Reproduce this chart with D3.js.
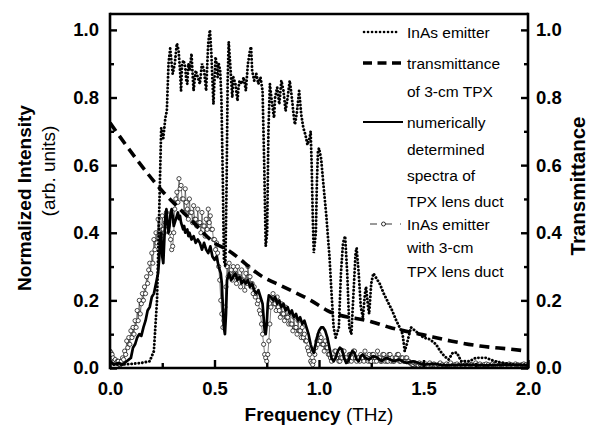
<!DOCTYPE html>
<html>
<head>
<meta charset="utf-8">
<script src="https://cdn.jsdelivr.net/npm/d3@7"></script>
<style>
  body { margin: 0; background: #fff; }
  svg { font-family: "Liberation Sans", Arial, sans-serif; }
  .tick-label { font-size: 18.5px; font-weight: bold; fill: #000; }
  .legend-text { font-size: 15.5px; fill: #000; }
</style>
</head>
<body>
<svg id="chart" width="595" height="428"></svg>
<script>
// InAs emitter (dotted) — [frequency THz, intensity]
const inasEmitter = [
  [0.00,0.01],[0.05,0.01],[0.10,0.012],[0.15,0.015],[0.19,0.02],[0.21,0.05],[0.225,0.2],[0.235,0.45],
  [0.245,0.71],[0.255,0.68],[0.265,0.74],[0.272,0.76],[0.28,0.90],[0.288,0.945],[0.295,0.90],[0.30,0.87],
  [0.31,0.90],[0.32,0.96],[0.328,0.94],[0.335,0.88],[0.34,0.82],[0.345,0.90],[0.352,0.91],[0.36,0.89],
  [0.365,0.85],[0.37,0.84],[0.375,0.90],[0.382,0.88],[0.39,0.93],[0.395,0.87],[0.40,0.82],[0.41,0.88],
  [0.42,0.86],[0.43,0.84],[0.44,0.90],[0.45,0.88],[0.46,0.82],[0.47,0.96],[0.478,1.00],[0.485,0.93],
  [0.49,0.85],[0.495,0.78],[0.50,0.85],[0.505,0.92],[0.51,0.90],[0.515,0.86],[0.52,0.90],[0.527,0.88],
  [0.533,0.80],[0.54,0.55],[0.545,0.32],[0.552,0.30],[0.558,0.55],[0.563,0.85],[0.568,0.965],[0.575,0.90],
  [0.58,0.85],[0.585,0.80],[0.59,0.86],[0.60,0.84],[0.61,0.79],[0.615,0.83],[0.62,0.85],[0.63,0.84],
  [0.64,0.86],[0.65,0.82],[0.66,0.90],[0.67,0.94],[0.675,0.95],[0.68,0.88],[0.69,0.85],[0.70,0.87],
  [0.71,0.84],[0.72,0.86],[0.73,0.82],[0.738,0.60],[0.745,0.36],[0.752,0.40],[0.758,0.70],[0.765,0.84],
  [0.772,0.80],[0.78,0.76],[0.785,0.74],[0.79,0.80],[0.80,0.83],[0.81,0.78],[0.82,0.85],[0.83,0.82],
  [0.84,0.76],[0.85,0.80],[0.86,0.85],[0.87,0.80],[0.88,0.74],[0.885,0.72],[0.895,0.76],[0.905,0.82],
  [0.915,0.75],[0.925,0.71],[0.935,0.69],[0.945,0.66],[0.955,0.68],[0.96,0.70],[0.965,0.60],[0.97,0.45],
  [0.975,0.34],[0.985,0.40],[0.99,0.55],[0.995,0.64],[1.00,0.65],[1.01,0.62],[1.02,0.55],[1.035,0.45],
  [1.05,0.33],[1.06,0.22],[1.07,0.12],[1.08,0.09],[1.095,0.12],[1.105,0.28],[1.115,0.37],[1.125,0.39],
  [1.135,0.28],[1.145,0.12],[1.155,0.10],[1.165,0.22],[1.175,0.34],[1.18,0.355],[1.19,0.28],[1.20,0.18],
  [1.21,0.15],[1.22,0.22],[1.225,0.24],[1.235,0.18],[1.24,0.16],[1.25,0.25],[1.26,0.28],[1.27,0.27],
  [1.29,0.25],[1.31,0.22],[1.33,0.195],[1.35,0.17],[1.37,0.14],[1.39,0.115],[1.40,0.10],[1.41,0.05],
  [1.42,0.07],[1.44,0.12],[1.46,0.11],[1.50,0.09],[1.53,0.085],[1.56,0.07],[1.58,0.05],[1.60,0.035],
  [1.62,0.025],[1.64,0.045],[1.66,0.045],[1.68,0.02],[1.72,0.02],[1.75,0.03],[1.80,0.03],[1.84,0.02],
  [1.88,0.015],[1.94,0.01],[2.00,0.01]
];

// transmittance of 3-cm TPX (dashed, right axis)
const transmittance = [
  [0.00,0.725],[0.13,0.615],[0.255,0.52],[0.325,0.476],[0.40,0.43],[0.50,0.37],[0.56,0.35],
  [0.73,0.27],[0.83,0.24],[0.96,0.20],[1.04,0.17],[1.25,0.137],[1.34,0.12],[1.50,0.098],
  [1.63,0.08],[1.77,0.065],[1.91,0.056],[2.00,0.05]
];

// numerically determined spectra of TPX lens duct (solid)
const simulated = [
  [0.00,0.02],[0.02,0.01],[0.04,0.015],[0.06,0.01],[0.08,0.02],[0.10,0.03],[0.11,0.06],[0.12,0.07],
  [0.13,0.09],[0.14,0.10],[0.15,0.095],[0.16,0.12],[0.17,0.14],[0.18,0.17],[0.19,0.18],[0.20,0.21],
  [0.21,0.22],[0.22,0.25],[0.23,0.28],[0.235,0.32],[0.24,0.38],[0.245,0.40],[0.25,0.33],[0.255,0.31],
  [0.26,0.38],[0.265,0.45],[0.27,0.47],[0.275,0.43],[0.28,0.40],[0.285,0.42],[0.29,0.46],[0.295,0.47],
  [0.30,0.45],[0.305,0.42],[0.31,0.43],[0.32,0.45],[0.325,0.46],[0.33,0.44],[0.335,0.45],[0.34,0.43],
  [0.35,0.41],[0.355,0.42],[0.36,0.40],[0.37,0.41],[0.375,0.39],[0.38,0.40],[0.39,0.38],[0.40,0.39],
  [0.41,0.37],[0.42,0.38],[0.43,0.37],[0.44,0.35],[0.45,0.37],[0.46,0.35],[0.47,0.34],[0.48,0.36],
  [0.49,0.33],[0.50,0.32],[0.51,0.33],[0.52,0.30],[0.53,0.28],[0.535,0.25],[0.54,0.18],[0.545,0.12],
  [0.55,0.10],[0.555,0.16],[0.56,0.26],[0.565,0.27],[0.57,0.28],[0.58,0.26],[0.59,0.27],[0.60,0.28],
  [0.61,0.26],[0.62,0.27],[0.63,0.25],[0.64,0.26],[0.65,0.25],[0.66,0.26],[0.67,0.24],[0.68,0.25],
  [0.69,0.23],[0.70,0.22],[0.71,0.23],[0.72,0.21],[0.73,0.19],[0.735,0.15],[0.74,0.11],[0.745,0.10],
  [0.75,0.13],[0.755,0.19],[0.76,0.215],[0.77,0.21],[0.78,0.20],[0.79,0.21],[0.80,0.19],[0.81,0.20],
  [0.82,0.18],[0.83,0.19],[0.84,0.17],[0.85,0.18],[0.86,0.16],[0.87,0.17],[0.88,0.15],[0.89,0.16],
  [0.90,0.14],[0.91,0.15],[0.92,0.13],[0.93,0.14],[0.94,0.12],[0.95,0.10],[0.96,0.07],[0.97,0.05],
  [0.975,0.045],[0.98,0.06],[0.99,0.09],[1.00,0.11],[1.01,0.12],[1.02,0.12],[1.03,0.11],[1.04,0.09],
  [1.05,0.06],[1.06,0.03],[1.07,0.02],[1.08,0.03],[1.09,0.05],[1.10,0.06],[1.11,0.055],[1.12,0.03],
  [1.13,0.015],[1.14,0.02],[1.15,0.04],[1.16,0.05],[1.17,0.045],[1.18,0.025],[1.19,0.02],[1.20,0.035],
  [1.21,0.04],[1.22,0.03],[1.24,0.025],[1.26,0.035],[1.28,0.03],[1.30,0.02],[1.32,0.03],[1.34,0.025],
  [1.36,0.02],[1.38,0.025],[1.40,0.02],[1.42,0.015],[1.45,0.02],[1.50,0.01],[1.55,0.012],[1.60,0.008],
  [1.70,0.01],[1.80,0.008],[1.90,0.01],[2.00,0.008]
];

// InAs emitter with 3-cm TPX lens duct (open circles)
// one value every 0.005 THz from 0 to 1.5 THz
const ductStep = 0.005;
const ductValues = [
  0.05,0.045,0.04,0.03,0.02,0.025,0.015,0.02,0.02,0.01,
  0.01,0.02,0.03,0.025,0.05,0.04,0.08,0.06,0.09,0.07,
  0.11,0.09,0.12,0.10,0.14,0.12,0.17,0.14,0.20,0.16,
  0.19,0.22,0.20,0.24,0.22,0.27,0.25,0.29,0.31,0.28,
  0.34,0.31,0.38,0.35,0.40,0.37,0.44,0.40,0.42,0.39,
  0.45,0.41,0.40,0.43,0.46,0.42,0.43,0.40,0.38,0.35,
  0.36,0.40,0.47,0.50,0.52,0.49,0.56,0.53,0.54,0.50,
  0.50,0.46,0.53,0.49,0.47,0.44,0.50,0.46,0.46,0.43,
  0.48,0.44,0.44,0.42,0.47,0.43,0.43,0.40,0.46,0.42,
  0.42,0.39,0.44,0.41,0.47,0.43,0.45,0.41,0.41,0.38,
  0.38,0.35,0.37,0.34,0.30,0.26,0.20,0.16,0.12,0.14,
  0.18,0.24,0.30,0.27,0.31,0.28,0.29,0.26,0.30,0.27,
  0.28,0.25,0.30,0.27,0.27,0.24,0.29,0.26,0.26,0.23,
  0.28,0.25,0.30,0.27,0.27,0.24,0.25,0.22,0.24,0.21,
  0.22,0.19,0.20,0.17,0.16,0.13,0.10,0.07,0.04,0.03,
  0.02,0.04,0.08,0.13,0.18,0.20,0.22,0.19,0.19,0.17,
  0.21,0.18,0.17,0.15,0.19,0.16,0.16,0.14,0.18,0.15,
  0.15,0.13,0.16,0.13,0.13,0.11,0.15,0.12,0.12,0.10,
  0.14,0.11,0.11,0.09,0.12,0.09,0.10,0.08,0.08,0.06,
  0.05,0.04,0.02,0.015,0.01,0.02,0.04,0.06,0.08,0.07,
  0.10,0.08,0.09,0.07,0.07,0.05,0.08,0.06,0.06,0.04,
  0.04,0.03,0.02,0.03,0.03,0.05,0.05,0.03,0.04,0.02,
  0.02,0.03,0.03,0.05,0.05,0.03,0.03,0.02,0.02,0.04,
  0.04,0.02,0.03,0.05,0.05,0.03,0.02,0.03,0.03,0.02,
  0.04,0.03,0.03,0.02,0.05,0.03,0.03,0.02,0.04,0.02,
  0.02,0.04,0.04,0.02,0.03,0.02,0.05,0.03,0.03,0.02,
  0.02,0.04,0.04,0.02,0.03,0.02,0.02,0.04,0.04,0.02,
  0.03,0.02,0.02,0.03,0.03,0.04,0.04,0.02,0.02,0.03,
  0.03,0.02,0.02,0.03,0.03,0.02,0.02,0.015,0.015,0.01,
  0.01,0.015,0.015,0.01,0.012,0.008,0.015,0.01,0.012,0.008,
  0.01
];
// one value every 0.01 THz from 1.51 to 2.0 THz
const ductTailStep = 0.01;
const ductTail = [
  0.012,0.008,0.015,0.01,0.012,0.008,0.01,0.015,0.01,0.008,
  0.012,0.01,0.015,0.008,0.01,0.012,0.008,0.01,0.015,0.01,
  0.008,0.012,0.01,0.008,0.015,0.01,0.012,0.008,0.01,0.012,
  0.01,0.008,0.012,0.01,0.015,0.008,0.01,0.012,0.008,0.01,
  0.012,0.01,0.008,0.012,0.01,0.008,0.01,0.012,0.01,0.008
];

const xTicks = [0, 0.5, 1.0, 1.5, 2.0];
const yTicks = [0, 0.2, 0.4, 0.6, 0.8, 1.0];

const legendItems = [
  { kind: 'dotted', lines: ['InAs emitter'] },
  { kind: 'dashed', lines: ['transmittance', 'of 3-cm TPX'] },
  { kind: 'solid',  lines: ['numerically', 'determined', 'spectra of', 'TPX lens duct'] },
  { kind: 'circle', lines: ['InAs emitter', 'with 3-cm', 'TPX lens duct'] }
];

const svg = d3.select('#chart');
const L = 110, R = 528, T = 14, B = 368;

const x = d3.scaleLinear().domain([0, 2]).range([L, R]);
const y = d3.scaleLinear().domain([0, 1.047]).range([B, T]);
const yR = y.copy();

const duct = ductValues.map((v, i) => [i * ductStep, v])
  .concat(ductTail.map((v, i) => [1.51 + i * ductTailStep, v]));

const plot = svg.append('g');
plot.append('clipPath').attr('id', 'clip')
  .append('rect').attr('x', L).attr('y', T).attr('width', R - L).attr('height', B - T + 2);
const g = plot.append('g').attr('clip-path', 'url(#clip)');

const line = d3.line().x(d => x(d[0])).y(d => y(d[1]));

// open circles with a thin line
g.append('path').datum(duct)
  .attr('d', line).attr('fill', 'none').attr('stroke', '#000').attr('stroke-width', 0.5);
g.append('g').selectAll('circle').data(duct).join('circle')
  .attr('cx', d => x(d[0])).attr('cy', d => y(d[1])).attr('r', 2.1)
  .attr('fill', '#fff').attr('stroke', '#000').attr('stroke-width', 0.7);

// solid simulated
g.append('path').datum(simulated)
  .attr('d', line).attr('fill', 'none').attr('stroke', '#000')
  .attr('stroke-width', 2.7).attr('stroke-linejoin', 'round');

// dashed transmittance
g.append('path').datum(transmittance)
  .attr('d', d3.line().curve(d3.curveMonotoneX).x(d => x(d[0])).y(d => yR(d[1])))
  .attr('fill', 'none').attr('stroke', '#000').attr('stroke-width', 3.6)
  .attr('stroke-dasharray', '10,6');

// dotted InAs emitter
g.append('path').datum(inasEmitter)
  .attr('d', line).attr('fill', 'none').attr('stroke', '#000')
  .attr('stroke-width', 2.9).attr('stroke-linecap', 'round')
  .attr('stroke-dasharray', '0.1,3.5');

// axes
const axW = 2.6;
const frame = svg.append('g');
frame.append('line').attr('x1', L).attr('x2', R).attr('y1', T).attr('y2', T)
  .attr('stroke', '#000').attr('stroke-width', axW);

const xAxis = svg.append('g').attr('transform', `translate(0,${B})`)
  .call(d3.axisBottom(x).tickValues(xTicks).tickFormat(d3.format('.1f')).tickSize(-8).tickPadding(14));
const xMinor = svg.append('g').attr('transform', `translate(0,${B})`)
  .call(d3.axisBottom(x).tickValues([0.25, 0.75, 1.25, 1.75]).tickFormat('').tickSize(-5));

const yAxis = svg.append('g').attr('transform', `translate(${L},0)`)
  .call(d3.axisLeft(y).tickValues(yTicks).tickFormat(d3.format('.1f')).tickSize(-7).tickPadding(11));
const yMinor = svg.append('g').attr('transform', `translate(${L},0)`)
  .call(d3.axisLeft(y).tickValues([0.1, 0.3, 0.5, 0.7, 0.9]).tickFormat('').tickSize(-4));

const yRAxis = svg.append('g').attr('transform', `translate(${R},0)`)
  .call(d3.axisRight(yR).tickValues(yTicks).tickFormat(d3.format('.1f')).tickSize(-7).tickPadding(8));
const yRMinor = svg.append('g').attr('transform', `translate(${R},0)`)
  .call(d3.axisRight(yR).tickValues([0.1, 0.3, 0.5, 0.7, 0.9]).tickFormat('').tickSize(-4));

[xAxis, xMinor, yAxis, yMinor, yRAxis, yRMinor].forEach(a => {
  a.select('.domain').remove();
  a.selectAll('.tick line').attr('stroke', '#000').attr('stroke-width', 2.4);
  a.selectAll('.tick text').attr('class', 'tick-label').attr('font-family', null).attr('font-size', null);
});
// axis spines drawn as plain lines
frame.append('line').attr('x1', L).attr('x2', R).attr('y1', B).attr('y2', B)
  .attr('stroke', '#000').attr('stroke-width', axW);
frame.append('line').attr('x1', L).attr('x2', L).attr('y1', T - axW / 2).attr('y2', B + axW / 2)
  .attr('stroke', '#000').attr('stroke-width', axW);
frame.append('line').attr('x1', R).attr('x2', R).attr('y1', T - axW / 2).attr('y2', B + axW / 2)
  .attr('stroke', '#000').attr('stroke-width', axW);
frame.raise();

// axis titles
const xt = svg.append('text').attr('x', (L + R) / 2).attr('y', 421)
  .attr('text-anchor', 'middle').attr('font-size', 19);
xt.append('tspan').attr('font-weight', 'bold').text('Frequency ');
xt.append('tspan').text('(THz)');

svg.append('text').attr('transform', 'translate(31,198) rotate(-90)')
  .attr('text-anchor', 'middle').attr('font-size', 19).attr('font-weight', 'bold')
  .text('Normalized Intensity');
svg.append('text').attr('transform', 'translate(55,171) rotate(-90)')
  .attr('text-anchor', 'middle').attr('font-size', 19)
  .text('(arb. units)');
svg.append('text').attr('transform', 'translate(585,186) rotate(-90)')
  .attr('text-anchor', 'middle').attr('font-size', 20.5).attr('font-weight', 'bold')
  .text('Transmittance');

// legend
const legendRows = [[32], [63, 91], [122, 149, 175, 201], [224, 247, 271]];
const lg = svg.append('g');
legendItems.forEach((item, i) => {
  const rows = legendRows[i];
  const ly = rows[0];
  if (item.kind === 'dotted') {
    lg.append('line').attr('x1', 364).attr('x2', 398).attr('y1', ly).attr('y2', ly)
      .attr('stroke', '#000').attr('stroke-width', 2.6).attr('stroke-linecap', 'round')
      .attr('stroke-dasharray', '0.1,3.9');
  } else if (item.kind === 'dashed') {
    lg.append('line').attr('x1', 363).attr('x2', 401).attr('y1', ly).attr('y2', ly)
      .attr('stroke', '#000').attr('stroke-width', 3.6).attr('stroke-dasharray', '9,5.5');
  } else if (item.kind === 'solid') {
    lg.append('line').attr('x1', 363).attr('x2', 403).attr('y1', ly).attr('y2', ly)
      .attr('stroke', '#000').attr('stroke-width', 2.2);
  } else {
    lg.append('line').attr('x1', 370).attr('x2', 401).attr('y1', ly).attr('y2', ly)
      .attr('stroke', '#000').attr('stroke-width', 0.8).attr('stroke-dasharray', '7,8');
    lg.append('circle').attr('cx', 383.5).attr('cy', ly).attr('r', 2)
      .attr('fill', '#fff').attr('stroke', '#000').attr('stroke-width', 0.8);
  }
  item.lines.forEach((t, j) => {
    lg.append('text').attr('class', 'legend-text').attr('x', 407).attr('y', rows[j] + 5.5).text(t);
  });
});
</script>
</body>
</html>
